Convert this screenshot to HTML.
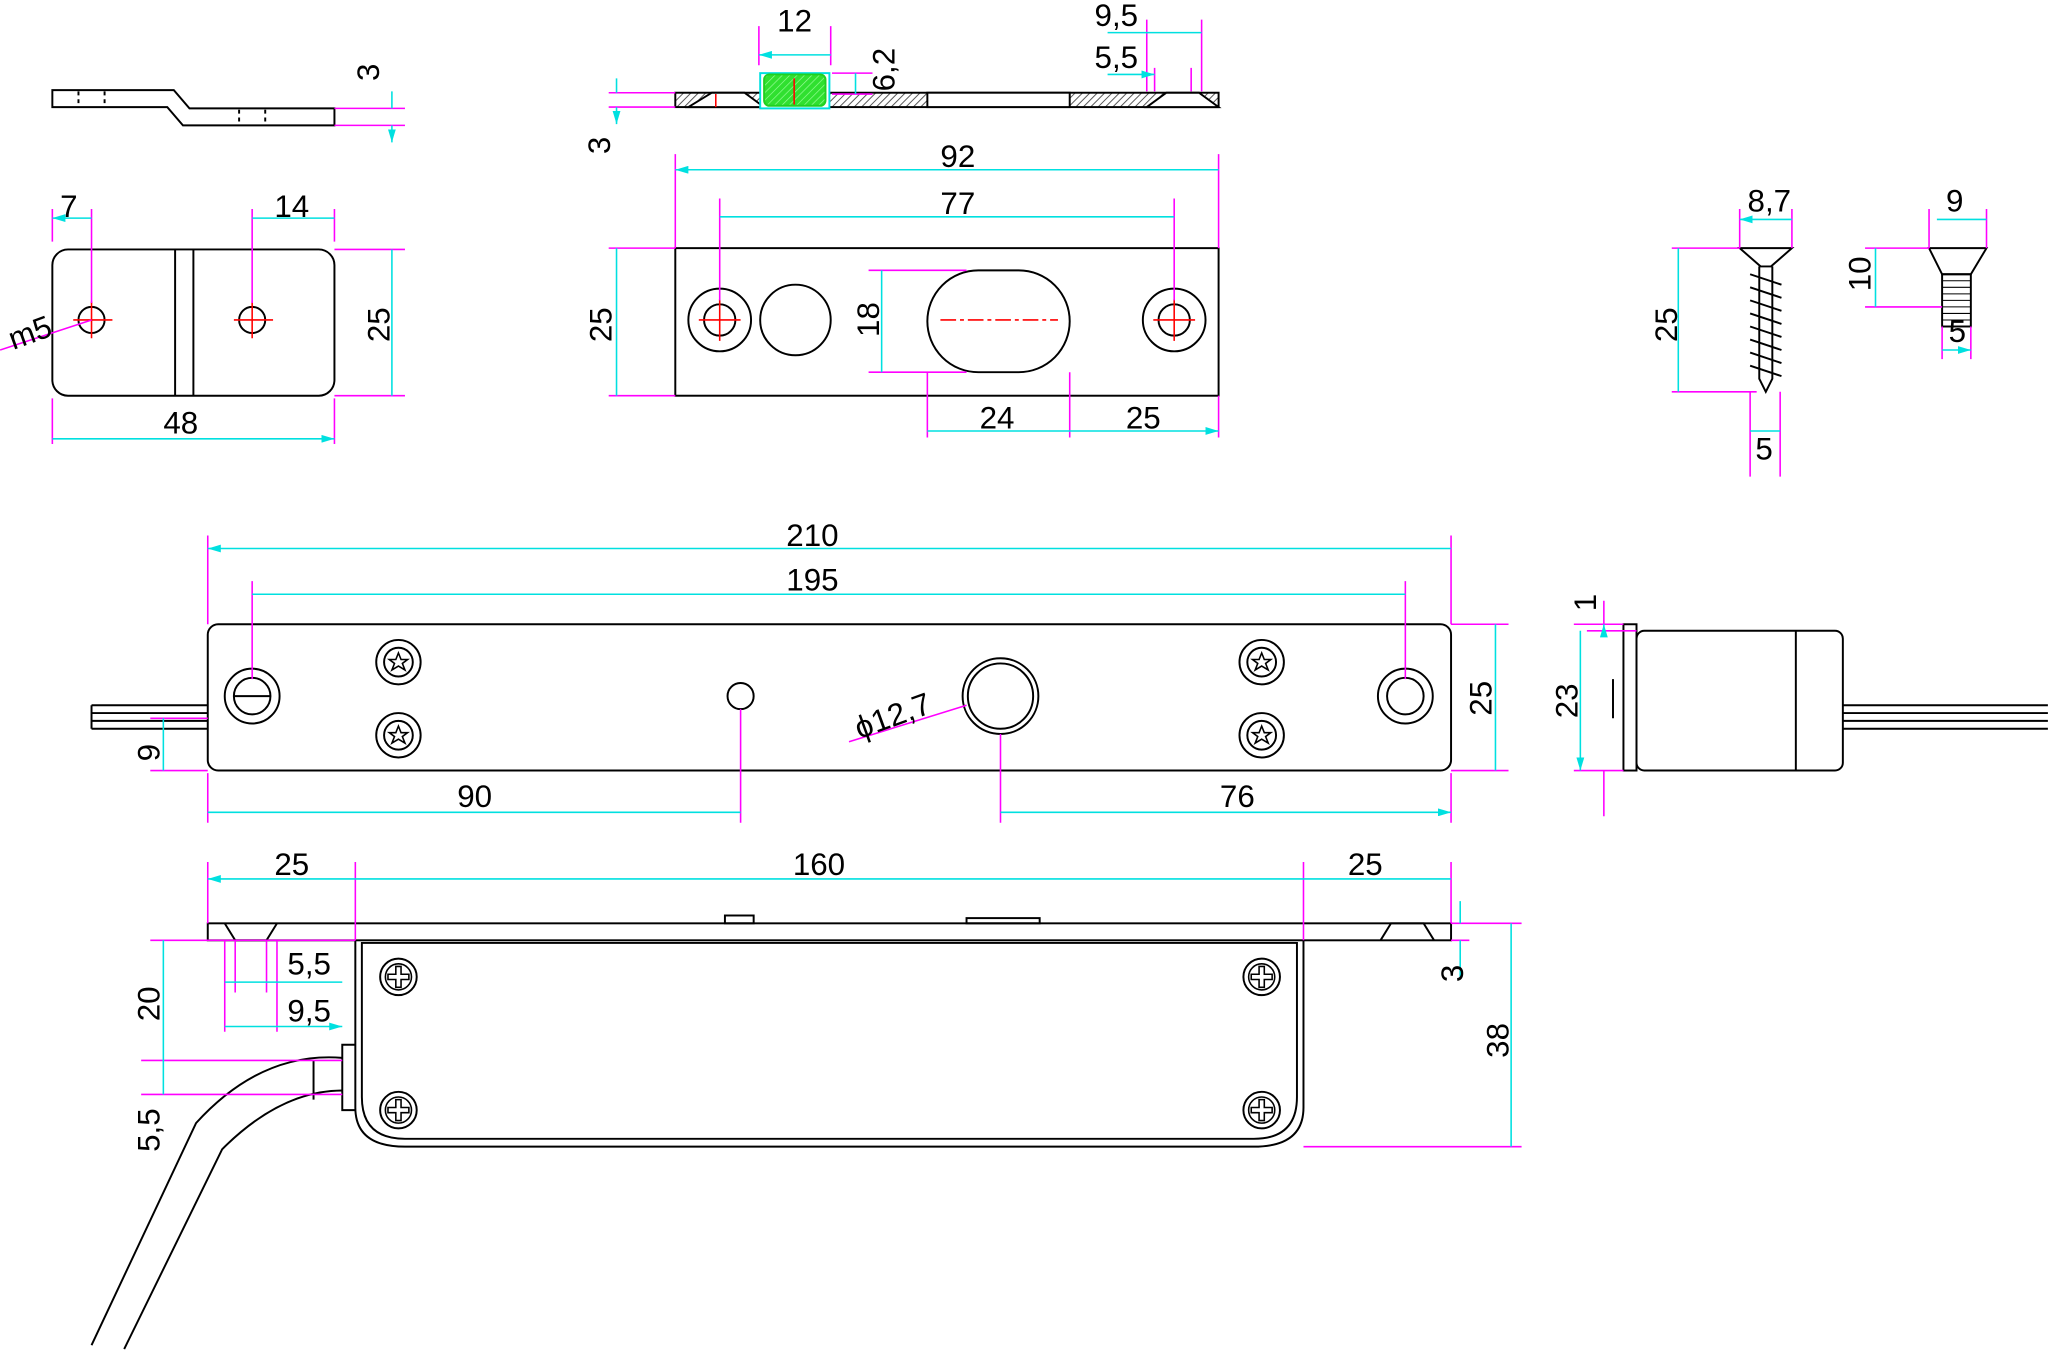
<!DOCTYPE html><html><head><style>html,body{margin:0;padding:0;background:#fff}svg{display:block}text{font-family:"Liberation Sans",sans-serif;font-size:24px;fill:#000}</style></head><body>
<svg width="2048" height="1353" viewBox="0 0 1568 1036" xmlns="http://www.w3.org/2000/svg">
<defs>
<marker id="a" markerWidth="10" markerHeight="6" refX="10" refY="3" orient="auto-start-reverse" markerUnits="userSpaceOnUse"><path d="M0,0L10,3L0,6z" fill="#00e0e0"/></marker>
<pattern id="h" width="4" height="4" patternUnits="userSpaceOnUse" patternTransform="rotate(45)"><rect width="4" height="4" fill="#fff"/><line x1="0" y1="0" x2="0" y2="4" stroke="#555" stroke-width="1.5"/></pattern>
<pattern id="g" width="4" height="4" patternUnits="userSpaceOnUse" patternTransform="rotate(45)"><rect width="4" height="4" fill="#30e030"/><line x1="0" y1="0" x2="0" y2="4" stroke="#9f9" stroke-width="1"/></pattern>
<g id="scr"><circle r="17" fill="none" stroke="#000" stroke-width="1.5"/><circle r="11" fill="none" stroke="#000" stroke-width="1.5"/><path d="M0,-7L2,-2L7,-2L3,1L5,6L0,3L-5,6L-3,1L-7,-2L-2,-2Z" fill="none" stroke="#000" stroke-width="1.2"/></g>
<g id="ph"><circle r="14" fill="none" stroke="#000" stroke-width="1.5"/><circle r="10" fill="none" stroke="#000" stroke-width="1.2"/><path d="M-2,-8h4v6h6v4h-6v6h-4v-6h-6v-4h6z" fill="none" stroke="#000" stroke-width="1.2"/></g>
</defs>
<g fill="none" stroke="#000" stroke-width="1.5">
<!-- bracket side -->
<path d="M40,69H133L145,83H256V96H140L128,82H40Z"/>
<path d="M60,70v12M80,70v12M183,84v11M203,84v11" stroke-dasharray="3,3"/>
<!-- bracket plan -->
<rect x="40" y="191" width="216" height="112" rx="12"/>
<path d="M134,191V303M148,191V303"/>
<circle cx="70" cy="245" r="10"/><circle cx="193" cy="245" r="10"/>
<!-- strike section -->
<rect x="517" y="71" width="416" height="11" fill="url(#h)"/>
<rect x="710" y="71" width="109" height="11" fill="#fff"/>
<path d="M527,82L545,71H570L585,82Z" fill="#fff"/>
<path d="M878,82L893,71H918L933,82Z" fill="#fff"/>
<rect x="582" y="56" width="53" height="27" fill="#fff" stroke="#00e0e0"/>
<rect x="585" y="57" width="47" height="24" rx="4" fill="url(#g)" stroke="#20d020"/>
<!-- strike plan -->
<rect x="517" y="190" width="416" height="113"/>
<circle cx="551" cy="245" r="24"/><circle cx="551" cy="245" r="12"/>
<circle cx="609" cy="245" r="27"/>
<rect x="710" y="207" width="109" height="78" rx="39"/>
<circle cx="899" cy="245" r="24"/><circle cx="899" cy="245" r="12"/>
<!-- screws -->
<path d="M1332,190H1372L1356,204H1348Z"/>
<path d="M1347,204V290L1352,300L1357,290V204" />
<path d="M1340,210l24,8M1340,220l24,8M1340,230l24,8M1340,240l24,8M1340,250l24,8M1340,260l24,8M1340,270l24,8M1340,280l24,8"/>
<path d="M1477,190H1521L1509,210H1487Z"/>
<rect x="1487" y="210" width="22" height="40"/>
<path d="M1487,215h22M1487,220h22M1487,225h22M1487,230h22M1487,235h22M1487,240h22M1487,245h22" stroke-width="0.8"/>
<!-- main front -->
<rect x="159" y="478" width="952" height="112" rx="8"/>
<circle cx="193" cy="533" r="21"/><circle cx="193" cy="533" r="14"/><path d="M179,533H207"/>
<circle cx="567" cy="533" r="10"/>
<circle cx="766" cy="533" r="29"/><circle cx="766" cy="533" r="25"/>
<circle cx="1076" cy="533" r="21"/><circle cx="1076" cy="533" r="14"/>
<path d="M70,540H159M70,546H159M70,552H159M70,558H159M70,540v18"/>
<!-- side view -->
<rect x="1243" y="478" width="10" height="112"/>
<rect x="1253" y="483" width="158" height="107" rx="6"/>
<path d="M1375,483V590M1235,520v30"/>
<path d="M1411,540H1568M1411,546H1568M1411,552H1568M1411,558H1568"/>
<!-- bottom view -->
<rect x="159" y="707" width="952" height="13"/>
<path d="M172,707L180,720H204L212,707M1057,720L1065,707H1090L1098,720"/>
<rect x="555" y="701" width="22" height="6"/><rect x="740" y="703" width="56" height="4"/>
<path d="M272,720V848Q272,878 310,878H960Q998,878 998,848V720"/>
<path d="M277,722V840Q277,872 310,872H960Q993,872 993,840V722Z"/>
<path d="M272,800H262V850H272"/>
<path d="M262,810Q200,805 150,860L70,1030M262,835Q215,835 170,880L95,1033M240,812v30"/>
</g>
<use href="#scr" x="305" y="507"/><use href="#scr" x="305" y="563"/><use href="#scr" x="966" y="507"/><use href="#scr" x="966" y="563"/>
<use href="#ph" x="305" y="748"/><use href="#ph" x="966" y="748"/><use href="#ph" x="305" y="850"/><use href="#ph" x="966" y="850"/>
<!-- red centerlines -->
<g stroke="#f00" stroke-width="1.2" fill="none">
<path d="M56,245h30M70,231v28M179,245h30M193,231v28M535,245h32M551,229v32M883,245h32M899,229v32M548,72v10M608,60v20"/>
<path d="M720,245h90" stroke-dasharray="12,3,3,3"/>
</g>
<!-- magenta extension -->
<g stroke="#f0f" stroke-width="1.2" fill="none">
<path d="M256,83H310M256,96H310M40,160V185M70,160V232M193,160V232M256,160V185M256,191H310M256,303H310M40,305V340M256,305V340M0,268L70,245"/>
<path d="M466,71H517M466,82H517M581,20V50M636,20V50M637,56H668M637,72H668M878,15V70M920,15V70M884,52V70M912,52V70"/>
<path d="M517,118V190M933,118V190M551,152V230M899,152V230M466,190H517M466,303H517M665,207H740M665,285H740M710,285V335M819,285V335M933,303V335"/>
<path d="M1280,190H1332M1280,300H1345M1340,300V365M1363,300V365M1332,160V190M1372,160V190M1428,190H1477M1428,235H1487M1477,160V190M1521,160V190M1487,250V275M1509,250V275"/>
<path d="M159,410V478M1111,410V478M193,445V520M1076,445V520M1111,478H1155M1111,590H1155M115,550H159M115,590H159M159,592V630M567,543V630M766,562V630M1111,592V630M650,568L740,540"/>
<path d="M1205,478H1243M1205,590H1243M1215,483H1253M1215,478H1243M1228,460V478M1228,590V625"/>
<path d="M159,660V707M272,660V720M998,660V720M1111,660V707M1111,707H1165M998,878H1165M1111,720H1125M115,720H272M115,812H262M108,812H240M108,838H262M172,720V790M180,720V760M204,720V760M212,720V790"/>
</g>
<!-- cyan dims -->
<g stroke="#00e0e0" stroke-width="1.2" fill="none" marker-start="url(#a)" marker-end="url(#a)">
<path d="M300,70V83M300,96V109" marker-start="none"/>
<path d="M40,167H70M193,167H256M300,191V303M40,336H256"/>
<path d="M472,71V60M472,82V95" marker-start="none"/>
<path d="M581,42H636M655,56V72M848,25H920M848,57H884"/>
<path d="M517,130H933M551,166H899M472,190V303M675,207V285M710,330H819M819,330H933"/>
<path d="M1332,168H1372M1285,190V300M1340,330H1363M1483,168H1521M1436,190V235M1487,268H1509"/>
<path d="M159,420H1111M193,455H1076M1145,478V590M125,550V590M159,622H567M766,622H1111"/>
<path d="M1228,478V483M1210,483V590"/>
<path d="M159,673H272M272,673H998M998,673H1111M1157,707V878M1118,690V707M1118,720V750M125,720V812M125,812V838M172,752H262M172,786H262"/>
</g>
<!-- labels -->
<text x="290" y="62" transform="rotate(-90 290 62)">3</text>
<text x="46" y="166">7</text><text x="210" y="166">14</text>
<text x="298" y="262" transform="rotate(-90 298 262)">25</text>
<text x="125" y="332">48</text>
<text x="10" y="268" transform="rotate(-20 10 268)">m5</text>
<text x="467" y="118" transform="rotate(-90 467 118)">3</text>
<text x="595" y="24">12</text>
<text x="685" y="70" transform="rotate(-90 685 70)">6,2</text>
<text x="838" y="20">9,5</text><text x="838" y="52">5,5</text>
<text x="720" y="128">92</text><text x="720" y="164">77</text>
<text x="468" y="262" transform="rotate(-90 468 262)">25</text>
<text x="673" y="258" transform="rotate(-90 673 258)">18</text>
<text x="750" y="328">24</text><text x="862" y="328">25</text>
<text x="1338" y="162">8,7</text>
<text x="1284" y="262" transform="rotate(-90 1284 262)">25</text>
<text x="1344" y="352">5</text>
<text x="1490" y="162">9</text>
<text x="1432" y="223" transform="rotate(-90 1432 223)">10</text>
<text x="1492" y="262">5</text>
<text x="602" y="418">210</text><text x="602" y="452">195</text>
<text x="1142" y="548" transform="rotate(-90 1142 548)">25</text>
<text x="122" y="583" transform="rotate(-90 122 583)">9</text>
<text x="350" y="618">90</text><text x="934" y="618">76</text>
<text x="658" y="566" transform="rotate(-20 658 566)">ϕ12,7</text>
<text x="1222" y="468" transform="rotate(-90 1222 468)">1</text>
<text x="1208" y="550" transform="rotate(-90 1208 550)">23</text>
<text x="210" y="670">25</text><text x="607" y="670">160</text><text x="1032" y="670">25</text>
<text x="1120" y="752" transform="rotate(-90 1120 752)">3</text>
<text x="1155" y="810" transform="rotate(-90 1155 810)">38</text>
<text x="122" y="782" transform="rotate(-90 122 782)">20</text>
<text x="122" y="882" transform="rotate(-90 122 882)">5,5</text>
<text x="220" y="746">5,5</text><text x="220" y="782">9,5</text>
</svg></body></html>
